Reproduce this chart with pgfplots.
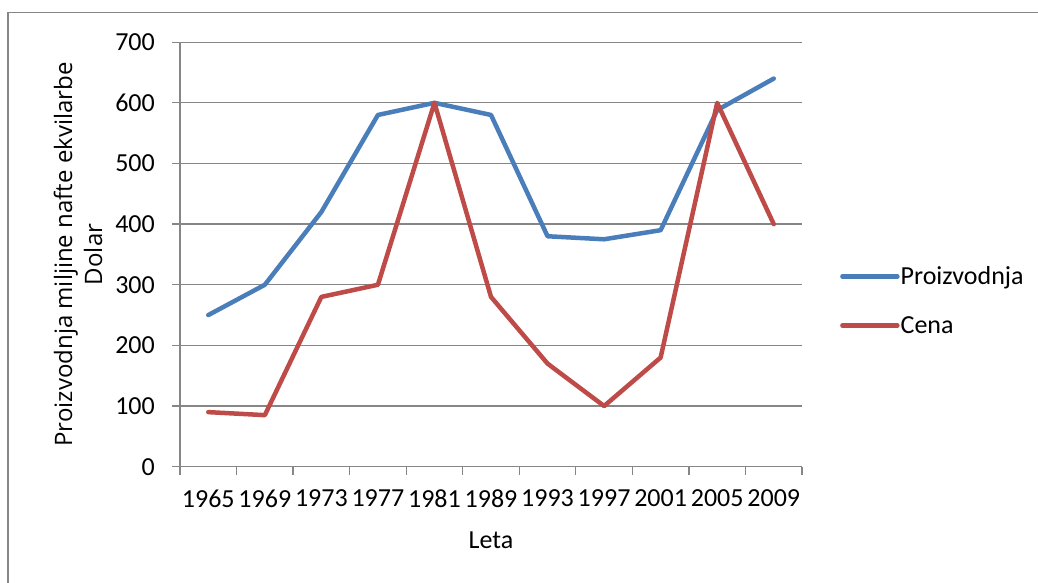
\documentclass[border=0pt]{standalone}
\usepackage{fontspec}
\setmainfont{Carlito}
\newfontfamily\osans{Open Sans}
\usepackage{pgfplots}
\pgfplotsset{compat=1.18}
\definecolor{cblue}{HTML}{4A7EBB}
\definecolor{cred}{HTML}{BE4B48}
\definecolor{cgray}{HTML}{868686}
\begin{document}
\begin{tikzpicture}[x=1bp,y=1bp]
\useasboundingbox (0,0) rectangle (1038,583);
\fill[white] (0,0) rectangle (1038,583);
\draw[cgray, line width=1.3bp] (8,-5) -- (8,570.3) -- (1045,570.3);
\begin{axis}[
  at={(180bp,116.3bp)}, anchor=south west,
  scale only axis, width=622bp, height=424.5bp,
  xmin=-0.5, xmax=10.5, ymin=0, ymax=700,
  axis x line*=bottom, axis y line*=left,
  axis line style={cgray, line width=1.3bp},
  tick style={cgray, line width=1.3bp},
  tick align=outside, major tick length=8bp,
  xtick={-0.5,0.5,...,10.5}, xticklabels={},
  extra x ticks={0,1,...,10},
  extra x tick labels={1965,1969,1973,1977,1981,1989,1993,1997,2001,2005,2009},
  extra x tick style={major tick length=0pt, grid=none},
  ytick={0,100,...,700},
  ymajorgrids, grid style={cgray, line width=1.3bp},
  /pgf/number format/assume math mode=true,
  tick label style={font=\fontsize{26bp}{31bp}\selectfont},
  yticklabel style={inner sep=0pt, xshift=-17bp},
  xticklabel style={inner sep=0pt, yshift=-23bp},
  xlabel={Leta},
  every axis x label/.style={at={(axis description cs:0.5,-0.1743)}, anchor=center, font=\fontsize{26bp}{31bp}\selectfont},
  ylabel={Proizvodnja miljine nafte ekvilarbe\\Dolar},
  every axis y label/.style={at={(axis description cs:-0.164,0.5)}, rotate=90, anchor=center, align=center, font=\osans\fontsize{24bp}{30bp}\selectfont},
  legend style={at={(axis description cs:1.061,0.391)}, anchor=west, draw=none, fill=none, inner sep=0pt, row sep=28bp,
    font=\fontsize{26bp}{31bp}\selectfont, nodes={inner sep=1bp}},
  legend cell align=left,
  legend image code/.code={\draw[#1, line width=4.5bp, line cap=round] (0bp,0bp) -- (55bp,0bp);},
]
\addplot[cblue, line width=4.5bp, line cap=round, line join=round] coordinates {
(0,250) (1,300) (2,420) (3,580) (4,600) (5,580) (6,380) (7,375) (8,390) (9,588) (10,640)};
\addlegendentry{Proizvodnja}
\addplot[cred, line width=4.5bp, line cap=round, line join=round] coordinates {
(0,90) (1,85) (2,280) (3,300) (4,600) (5,280) (6,170) (7,100) (8,180) (9,600) (10,400)};
\addlegendentry{Cena}
\end{axis}
\end{tikzpicture}
\end{document}
